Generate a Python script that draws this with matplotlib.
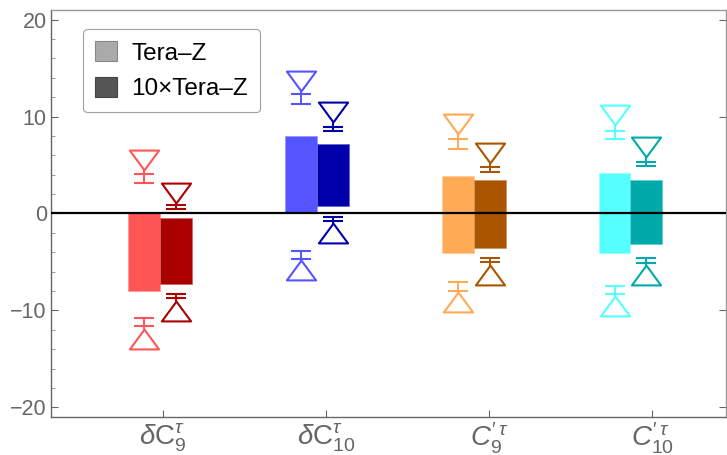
import numpy as np
import matplotlib
matplotlib.use("Agg")
import matplotlib.pyplot as plt
from matplotlib.path import Path
from matplotlib.patches import Patch

plt.rcParams['font.family'] = ['Liberation Sans', 'DejaVu Sans']
plt.rcParams['mathtext.fontset'] = 'custom'
plt.rcParams['mathtext.rm'] = 'Liberation Sans'
plt.rcParams['mathtext.it'] = 'Liberation Sans:italic'
plt.rcParams['mathtext.bf'] = 'Liberation Sans:bold'

# ---- data ----
labels = [r'$\delta\mathrm{C}_{9}^{\tau}$', r'$\delta\mathrm{C}_{10}^{\tau}$',
          r"$C_{9}^{\prime\,\tau}$", r"$C_{10}^{\prime\,\tau}$"]
series_names = ['Tera\u2013Z', '10\u00d7Tera\u2013Z']

light_colors = ['#FF5555', '#5555FF', '#FFAA55', '#55FFFF']
dark_colors = ['#AA0000', '#0000AA', '#AA5500', '#00AAAA']

# bar ranges
tera_lo = [-8.0, 0.0, -4.1, -4.1]
tera_hi = [0.2, 8.0, 3.9, 4.15]
tera10_lo = [-7.3, 0.77, -3.6, -3.1]
tera10_hi = [-0.5, 7.15, 3.45, 3.45]

# upper markers: triangle value and error caps (far, near)
tera_up_tri = [5.5, 13.7, 9.2, 10.2]
tera_up_cap_far = [4.1, 12.3, 7.65, 8.55]
tera_up_cap_near = [3.1, 11.35, 6.7, 7.65]
tera10_up_tri = [2.15, 10.45, 6.25, 6.9]
tera10_up_cap_far = [0.88, 8.95, 4.75, 5.35]
tera10_up_cap_near = [0.46, 8.55, 4.3, 4.9]

# lower markers
tera_dn_tri = [-12.9, -5.8, -9.15, -9.5]
tera_dn_cap_far = [-11.65, -4.7, -7.95, -8.3]
tera_dn_cap_near = [-10.8, -3.85, -7.05, -7.45]
tera10_dn_tri = [-10.1, -2.0, -6.3, -6.35]
tera10_dn_cap_far = [-8.75, -0.77, -5.05, -5.1]
tera10_dn_cap_near = [-8.35, -0.35, -4.6, -4.6]

# ---- layout ----
fig = plt.figure(figsize=(7.27, 4.55), dpi=100)
ax = fig.add_axes([51 / 727, 1 - 417 / 455, 675 / 727, 407 / 455])

tick_pos = np.arange(1, 5)
group_pos = np.arange(4) * 0.962 + 0.982
bw = 0.196

h = 0.68
tri_down = Path([(-1, h), (1, h), (0, -h), (-1, h)],
                [Path.MOVETO, Path.LINETO, Path.LINETO, Path.CLOSEPOLY])
tri_up = Path([(-1, -h), (1, -h), (0, h), (-1, -h)],
              [Path.MOVETO, Path.LINETO, Path.LINETO, Path.CLOSEPOLY])

def light_edge(c):
    rgb = np.array(matplotlib.colors.to_rgb(c))
    return tuple(rgb + (1 - rgb) * 0.4)

for i in range(4):
    xl = group_pos[i] - bw / 2
    xd = group_pos[i] + bw / 2
    ax.bar(group_pos[i] - bw, tera_hi[i] - tera_lo[i], bottom=tera_lo[i], width=bw,
           align='edge', color=light_colors[i], edgecolor=light_edge(light_colors[i]),
           linewidth=0.6, zorder=2)
    ax.bar(group_pos[i], tera10_hi[i] - tera10_lo[i], bottom=tera10_lo[i], width=bw,
           align='edge', color=dark_colors[i], edgecolor=light_edge(dark_colors[i]),
           linewidth=0.6, zorder=2)

    for x, col, tri, far, near, mk in [
        (xl, light_colors[i], tera_up_tri[i], tera_up_cap_far[i], tera_up_cap_near[i], tri_down),
        (xd, dark_colors[i], tera10_up_tri[i], tera10_up_cap_far[i], tera10_up_cap_near[i], tri_down),
        (xl, light_colors[i], tera_dn_tri[i], tera_dn_cap_far[i], tera_dn_cap_near[i], tri_up),
        (xd, dark_colors[i], tera10_dn_tri[i], tera10_dn_cap_far[i], tera10_dn_cap_near[i], tri_up),
    ]:
        ax.plot([x, x], [tri, near], color=col, lw=1.4, zorder=4, solid_capstyle='butt')
        ax.plot([x, x], [far, near], linestyle='none', marker='_', markersize=14,
                markeredgewidth=1.5, color=col, zorder=4)
        ax.plot([x], [tri], linestyle='none', marker=mk, markersize=21,
                markerfacecolor='white', markeredgecolor=col, markeredgewidth=1.5, zorder=5)

ax.axhline(0, color='black', lw=1.6, zorder=3)

ax.set_xlim(0.313, 4.454)
ax.set_ylim(-21, 21)

ax.set_xticks(tick_pos)
ax.set_xticklabels(labels, fontsize=20, color='#666666')
ax.set_yticks([-20, -10, 0, 10, 20])
ax.set_yticklabels(['\u221220', '\u221210', '0', '10', '20'])
ax.set_yticks(np.arange(-20, 21, 2), minor=True)
ax.tick_params(axis='y', which='major', direction='in', length=5, width=0.8,
               colors='#666666', labelsize=15.5, right=True, pad=3)
ax.tick_params(axis='y', which='minor', direction='in', length=3, width=0.6,
               colors='#888888', right=False)
ax.tick_params(axis='x', which='major', direction='in', length=5, width=0.8,
               colors='#666666', pad=3)
for lab in ax.get_yticklabels():
    lab.set_color('#666666')

for side in ['left', 'bottom']:
    ax.spines[side].set_color('#666666')
    ax.spines[side].set_linewidth(1.0)
for side in ['top', 'right']:
    ax.spines[side].set_color('#999999')
    ax.spines[side].set_linewidth(1.0)

handles = [Patch(facecolor='#AAAAAA', edgecolor='#888888', linewidth=0.8),
           Patch(facecolor='#555555', edgecolor='#444444', linewidth=0.8)]
leg = ax.legend(handles, series_names, loc='upper left',
                bbox_to_anchor=((83 - 51) / 675, (417 - 29) / 407),
                borderaxespad=0, fontsize=17.5, frameon=True, fancybox=True,
                handlelength=0.9, handleheight=0.9, handletextpad=0.6,
                labelspacing=0.5, borderpad=0.5)
leg.get_frame().set_edgecolor('#888888')
leg.get_frame().set_linewidth(0.8)

fig.savefig('out.png', dpi=100)
